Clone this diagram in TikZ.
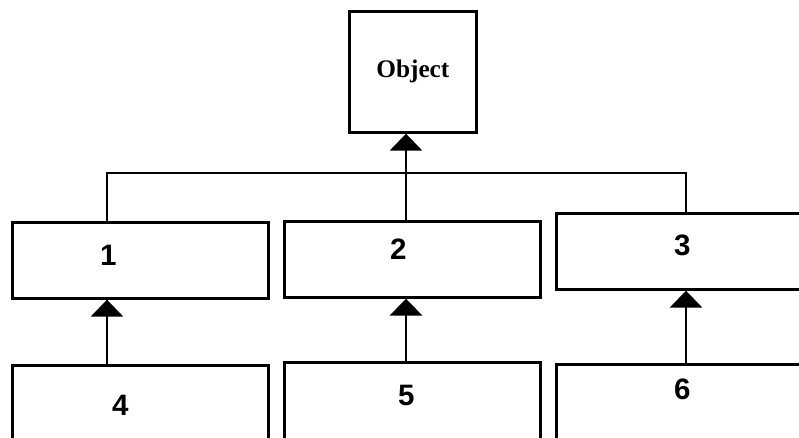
\documentclass[tikz,border=0pt]{standalone}
\usepackage{fontspec}
\setmainfont{Liberation Sans}
\newfontfamily\objfont{Liberation Serif}
\usetikzlibrary{arrows.meta}
\tikzstyle{classbox} = [rectangle, minimum width=6.4cm, minimum height=1.9cm, draw=black, line width=1.9pt, anchor=north west]
\tikzstyle{rootbox} = [rectangle, minimum width=3.175cm, minimum height=3.025cm, text centered, draw=black, line width=1.9pt, anchor=north west, font=\objfont\fontsize{18}{21}\selectfont\bfseries]
\tikzstyle{every label} = [font=\fontsize{21}{24}\selectfont\bfseries, inner sep=0pt]
\tikzstyle{line} = [line width=1.4pt]
\tikzstyle{arrow} = [line width=1.4pt,-{Triangle[width=0.8cm,length=0.42cm]}]

\begin{document}
\begin{tikzpicture}[x=0.025cm, y=-0.025cm]
  \path[use as bounding box, clip] (0,0) rectangle (799,437);
  \fill[white] (0,0) rectangle (799,437);

  \node (obj) [rootbox] at (348,10) {Object};
  \node (o1) [classbox, label={[xshift=-0.8cm, yshift=0.12cm]center:1}] at (11,221) {};
  \node (o2) [classbox, label={[xshift=-0.35cm, yshift=0.26cm]center:2}] at (283,220) {};
  \node (o3) [classbox, minimum width=6.5cm, label={[xshift=-0.1cm, yshift=0.15cm]center:3}] at (555,212) {};
  \node (o4) [classbox, minimum height=2cm, label={[xshift=-0.5cm]center:4}] at (11,364) {};
  \node (o5) [classbox, minimum height=2cm, label={[xshift=-0.15cm, yshift=0.18cm]center:5}] at (283,361) {};
  \node (o6) [classbox, minimum width=6.5cm, minimum height=2cm, label={[xshift=-0.1cm, yshift=0.38cm]center:6}] at (555,363) {};

  \coordinate (j1) at (107,173);
  \coordinate (trunk) at (406,173);
  \coordinate (j3) at (686,173);

  \draw [line] (o1.north -| j1) -- (j1) -- (j3) -- (o3.north -| j3);
  \draw [arrow] (o2.north -| trunk) -- (obj.south -| trunk);
  \draw [arrow] (o4.north -| j1) -- (o1.south -| j1);
  \draw [arrow, line width=2.1pt] (o5.north -| trunk) -- (o2.south -| trunk);
  \draw [arrow] (o6.north -| j3) -- (o3.south -| j3);
\end{tikzpicture}
\end{document}
